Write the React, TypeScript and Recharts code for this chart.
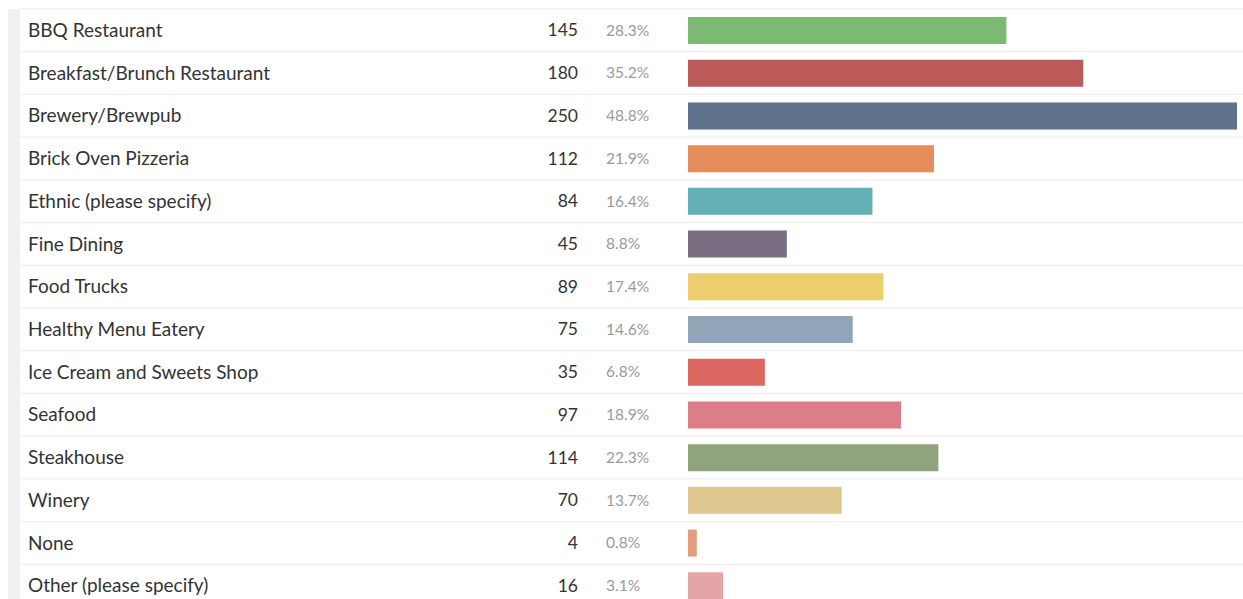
import React from 'react';
import { BarChart, Bar, XAxis, YAxis, Cell } from 'recharts';

const categories = [
  'BBQ Restaurant',
  'Breakfast/Brunch Restaurant',
  'Brewery/Brewpub',
  'Brick Oven Pizzeria',
  'Ethnic (please specify)',
  'Fine Dining',
  'Food Trucks',
  'Healthy Menu Eatery',
  'Ice Cream and Sweets Shop',
  'Seafood',
  'Steakhouse',
  'Winery',
  'None',
  'Other (please specify)',
];
const counts = [145, 180, 250, 112, 84, 45, 89, 75, 35, 97, 114, 70, 4, 16];
const percents = ['28.3%', '35.2%', '48.8%', '21.9%', '16.4%', '8.8%', '17.4%', '14.6%', '6.8%', '18.9%', '22.3%', '13.7%', '0.8%', '3.1%'];
const colors = [
  '#7cba74', '#bc5a5a', '#5f718b', '#e58c5a', '#64b1b5', '#7a6e83', '#edce6e',
  '#91a5b8', '#dc6660', '#dc7d87', '#8fa37c', '#dfc990', '#e29e7b', '#e5a5a7',
];

const data = categories.map((name, i) => ({ name, count: counts[i], pct: percents[i] }));

const W = 1243;
const H = 607;
const margin = { top: 9, right: 6, bottom: 0, left: 20 };
const rowH = (H - margin.top - margin.bottom) / data.length;
const FONT = 'Lato, "Open Sans", sans-serif';

const RowTick = (props: any) => {
  const { y, payload, index } = props;
  const row = data[index] ?? data.find((d) => d.name === payload.value);
  const top = y - rowH / 2;
  return (
    <g>
      <line x1={margin.left} x2={W} y1={top} y2={top} stroke="#ececec" strokeWidth={1} />
      <text x={28} y={y} dy="0.35em" fontSize={19} fill="#333" fontFamily={FONT}>
        {row.name}
      </text>
      <text x={578} y={y} dy="0.35em" fontSize={17.5} fill="#333" textAnchor="end" fontFamily={FONT}>
        {row.count}
      </text>
      <text x={606} y={y} dy="0.35em" fontSize={15.5} fill="#9a9a9a" fontFamily={FONT}>
        {row.pct}
      </text>
    </g>
  );
};

export default function App() {
  return (
    <div style={{ position: 'absolute', left: 0, top: 0, width: W, height: 599, overflow: 'hidden', background: '#fff' }}>
      <div style={{ position: 'absolute', left: 8, top: 9, width: 12, height: 600, background: '#f1f1f1' }} />
      <div style={{ position: 'absolute', left: 0, top: 0 }}>
        <BarChart width={W} height={H} data={data} layout="vertical" margin={margin}>
          <XAxis type="number" domain={[0, 250]} hide />
          <YAxis
            type="category"
            dataKey="name"
            width={668}
            axisLine={false}
            tickLine={false}
            interval={0}
            tick={<RowTick />}
          />
          <Bar dataKey="count" barSize={27} isAnimationActive={false}>
            {data.map((d, i) => (
              <Cell key={d.name} fill={colors[i]} />
            ))}
          </Bar>
        </BarChart>
      </div>
    </div>
  );
}
